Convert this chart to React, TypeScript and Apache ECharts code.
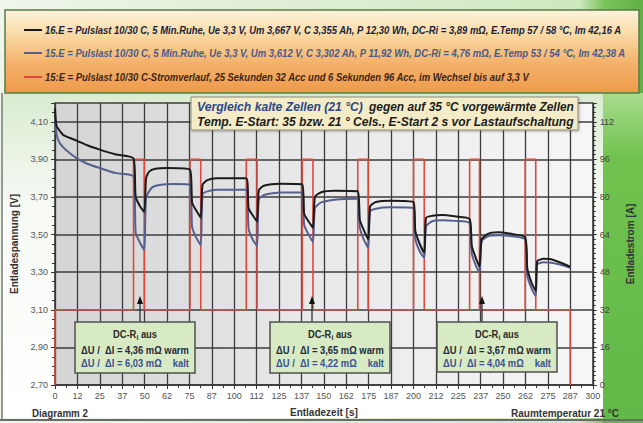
import React, { useEffect, useRef } from 'react';
import * as echarts from 'echarts';

// ---------- data ----------
const xTickLabels = ['0','12','25','37','50','62','75','87','100','112','125','137','150','162','175','187','200','212','225','237','250','262','275','287','300'];
const leftTickLabels = ['2,70','2,90','3,10','3,30','3,50','3,70','3,90','4,10'];
const rightTickLabels = ['0','16','32','48','64','80','96','112'];

// 16.E (black, warm cell) [s, V]
const cell16: [number, number][] = [
  [0,4.17],[0.5,4.10],[1,4.075],[2,4.06],[4.6,4.03],[8,4.015],[12,4.00],[18,3.975],[25,3.952],[34,3.926],[43.8,3.905],
  [45,3.70],[47.5,3.65],[49.8,3.62],
  [50.8,3.80],[52.5,3.835],[56,3.85],[63,3.854],[75.3,3.845],
  [76.5,3.67],[79,3.625],[81.3,3.59],
  [82.3,3.765],[85,3.79],[90,3.80],[106.7,3.80],
  [108,3.64],[110.5,3.60],[112.7,3.57],
  [113.7,3.735],[116.5,3.76],[125,3.771],[137.9,3.768],
  [139,3.61],[141.5,3.57],[143.9,3.536],
  [145,3.70],[148.5,3.725],[156,3.733],[168.9,3.73],
  [170,3.58],[172,3.53],[174.7,3.474],
  [175.8,3.65],[179,3.673],[187,3.68],[200,3.673],
  [201,3.52],[203.5,3.45],[206,3.403],
  [207,3.589],[210.5,3.60],[216,3.604],[223,3.597],[231.3,3.583],
  [232.5,3.44],[235,3.37],[236.8,3.33],
  [238,3.474],[241.5,3.504],[247,3.512],[255,3.503],[262.3,3.486],
  [263.5,3.32],[266,3.24],[268.2,3.20],
  [269,3.358],[272.5,3.371],[276,3.37],[281.5,3.353],[287.4,3.329]
];

// 15.E (blue, cold cell) [s, V]
const cell15: [number, number][] = [
  [0,4.13],[0.5,4.06],[1.5,4.01],[3.6,3.975],[8,3.935],[12,3.907],[18,3.877],[25,3.854],[34,3.827],[43.8,3.809],
  [45,3.51],[47.5,3.455],[49.8,3.42],
  [50.8,3.695],[53.8,3.748],[57.5,3.762],[66,3.769],[75.3,3.765],
  [76.5,3.54],[79,3.48],[81.3,3.445],
  [82.3,3.715],[85,3.73],[90,3.739],[106.7,3.739],
  [108,3.53],[110.5,3.47],[112.7,3.44],
  [113.7,3.686],[117,3.712],[126,3.724],[137.9,3.724],
  [139,3.55],[141.5,3.50],[143.9,3.46],
  [145,3.641],[148.5,3.671],[156,3.686],[168.9,3.691],
  [170,3.54],[172,3.48],[174.7,3.43],
  [175.8,3.624],[179,3.638],[187,3.645],[200,3.641],
  [201,3.48],[203.5,3.41],[206,3.377],
  [207,3.544],[210.5,3.571],[216,3.576],[223,3.573],[231.3,3.562],
  [232.5,3.40],[235,3.33],[236.8,3.30],
  [238,3.465],[241.5,3.491],[247,3.496],[255,3.491],[262.3,3.474],
  [263.5,3.28],[266,3.21],[268.2,3.173],
  [269,3.341],[272.5,3.353],[277,3.35],[283,3.337],[287.4,3.324]
];

// current profile (A)
const pulseStarts = [43.8, 75.3, 106.7, 137.9, 168.9, 200, 231.3, 262.3];
const pulseEnds = [49.8, 81.3, 112.7, 143.9, 174.7, 206, 236.8, 268.2];
const baseCurrent = 32;
const pulseCurrent = 96;
const endTime = 287.4;

const legendLines = [
  '16.E = Pulslast 10/30 C, 5 Min.Ruhe, Ue 3,3 V, Um 3,667 V, C 3,355 Ah, P 12,30 Wh, DC-Ri = 3,89 mΩ, E.Temp 57 / 58 °C, Im 42,16 A',
  '15.E = Pulslast 10/30 C, 5 Min.Ruhe, Ue 3,3 V, Um 3,612 V, C 3,302 Ah, P 11,92 Wh, DC-Ri = 4,76 mΩ, E.Temp 53 / 54 °C, Im 42,38 A',
  '15:E = Pulslast 10/30 C-Stromverlauf, 25 Sekunden 32 Acc und 6 Sekunden 96 Acc, im Wechsel bis auf 3,3 V'
];
const dcriWarm = ['4,36', '3,65', '3,67'];
const dcriKalt = ['6,03', '4,22', '4,04'];

// ---------- layout / style ----------
const FF = '"Liberation Sans", Arial, sans-serif';
const C_BLACK = '#1b1b1b';
const C_BLUE = '#56608f';
const C_RED = '#dc4a40';

let _ctx: CanvasRenderingContext2D | null = null;
function measure(text: string, size: number, bold: boolean, italic: boolean) {
  if (!_ctx) _ctx = document.createElement('canvas').getContext('2d');
  _ctx!.font = `${italic ? 'italic ' : ''}${bold ? 'bold ' : ''}${size}px ${FF}`;
  return _ctx!.measureText(text).width;
}

function txt(text: string, x: number, y: number, o: { size: number; color: string; bold?: boolean; italic?: boolean; width?: number; scale?: number; align?: string }) {
  const bold = o.bold !== false;
  const italic = !!o.italic;
  let sx = o.scale ?? 1;
  if (o.width) sx = o.width / measure(text, o.size, bold, italic);
  const align = o.align || 'left';
  return {
    type: 'text', x, y, scaleX: sx, z: 100,
    style: {
      text, fill: o.color, fontSize: o.size, fontFamily: FF,
      fontWeight: bold ? 'bold' : 'normal', fontStyle: italic ? 'italic' : 'normal',
      align, verticalAlign: 'middle', textAlign: align, textVerticalAlign: 'middle'
    }
  };
}

const boxes = [
  { x: 75, y: 322, w: 120, h: 51, arrowX: 140 },
  { x: 270, y: 322, w: 120, h: 51, arrowX: 312 },
  { x: 437, y: 322, w: 120, h: 50, arrowX: 482 }
];

export default function App() {
  const ref = useRef<HTMLDivElement>(null);
  useEffect(() => {
    const chart = echarts.init(ref.current!, undefined, { renderer: 'svg' });

    const current: [number, number][] = [[0, 0], [0, baseCurrent]];
    pulseStarts.forEach((s, i) => {
      current.push([s, baseCurrent], [s, pulseCurrent], [pulseEnds[i], pulseCurrent], [pulseEnds[i], baseCurrent]);
    });
    current.push([endTime, baseCurrent], [endTime, 0]);

    const g: any[] = [];
    // backgrounds
    g.push({ type: 'rect', z: -100, shape: { x: 0, y: 0, width: 643, height: 423 },
      style: { fill: new echarts.graphic.LinearGradient(0, 0, 1, 0, [
        { offset: 0, color: '#eef6ea' }, { offset: 0.9, color: '#cfe8c0' }, { offset: 0.94, color: '#7cc45c' }, { offset: 1, color: '#5db244' }]) } });
    g.push({ type: 'rect', z: -99, shape: { x: 2, y: 93, width: 601, height: 325 },
      style: { fill: new echarts.graphic.LinearGradient(0, 0, 0, 1, [
        { offset: 0, color: '#d9ecd0' }, { offset: 0.35, color: '#f7faf5' }, { offset: 1, color: '#ffffff' }]) } });
    g.push({ type: 'rect', z: -98, shape: { x: 603, y: 93, width: 40, height: 330 },
      style: { fill: new echarts.graphic.LinearGradient(0, 0, 0, 1, [
        { offset: 0, color: '#a8dc8c' }, { offset: 0.2, color: '#6fc24e' }, { offset: 1, color: '#62b848' }]) } });
    g.push({ type: 'line', z: -97, shape: { x1: 0, y1: 420, x2: 643, y2: 420 }, style: { stroke: '#6a6a6a', lineWidth: 2 } });
    g.push({ type: 'line', z: -97, shape: { x1: 2, y1: 93, x2: 2, y2: 420 }, style: { stroke: '#7a7a7a', lineWidth: 1.5 } });

    // legend box
    g.push({ type: 'rect', z: 90, shape: { x: 5, y: 10, width: 634, height: 83 },
      style: { fill: new echarts.graphic.LinearGradient(0, 0, 0, 1, [
        { offset: 0, color: '#fdf4dc' }, { offset: 0.3, color: '#f9d9a4' }, { offset: 0.65, color: '#f3b16a' }, { offset: 1, color: '#ee9a4a' }]),
        stroke: '#5a7a4a', lineWidth: 1.5 } });
    const legendColors = [C_BLACK, C_BLUE, C_RED];
    const legendText = ['#1a1f38', '#4c5a88', '#3a2418'];
    const legendY = [30, 53, 77];
    const legendW = [577, 582, 485];
    legendLines.forEach((s, i) => {
      g.push({ type: 'line', z: 100, shape: { x1: 24, y1: legendY[i], x2: 42, y2: legendY[i] }, style: { stroke: legendColors[i], lineWidth: 2 } });
      g.push(txt(s, 45, legendY[i], { size: 11, color: legendText[i], italic: true, width: legendW[i] }));
    });

    // title box
    g.push({ type: 'rect', z: 90, shape: { x: 191, y: 97, width: 387, height: 33 },
      style: { fill: '#f4ecc6', stroke: '#8c8a7c', lineWidth: 1, shadowBlur: 2, shadowColor: 'rgba(0,0,0,0.3)', shadowOffsetX: 1, shadowOffsetY: 1 } });
    g.push(txt('Vergleich kalte Zellen (21 °C)', 197, 107, { size: 13, color: '#2d4788', italic: true, width: 166 }));
    g.push(txt('gegen auf 35 °C vorgewärmte Zellen', 369, 107, { size: 13, color: '#1c1c1c', italic: true, width: 205 }));
    g.push(txt('Temp. E-Start: 35 bzw. 21 ° Cels., E-Start 2 s vor Lastaufschaltung', 197, 122, { size: 13, color: '#1c1c1c', italic: true, width: 377 }));

    // DC-Ri boxes with arrows
    boxes.forEach((b, i) => {
      g.push({ type: 'line', z: 95, shape: { x1: b.arrowX, y1: 302, x2: b.arrowX, y2: b.y }, style: { stroke: '#222', lineWidth: 1.2 } });
      g.push({ type: 'polygon', z: 95, shape: { points: [[b.arrowX, 296], [b.arrowX - 3, 304], [b.arrowX + 3, 304]] }, style: { fill: '#111' } });
      g.push({ type: 'rect', z: 96, shape: { x: b.x, y: b.y, width: b.w, height: b.h },
        style: { fill: '#d7eac4', stroke: '#505050', lineWidth: 1.5 } });
      const line2 = `ΔU /  ΔI = ${dcriWarm[i]} mΩ warm`;
      const sc = (b.w - 12) / measure(line2, 11, true, false);
      g.push({ type: 'text', z: 100, x: b.x + b.w / 2, y: b.y + 12, scaleX: sc,
        style: { text: '{a|DC-R}{s|i}{a| aus}', fontFamily: FF, align: 'center', verticalAlign: 'middle', textAlign: 'center', textVerticalAlign: 'middle',
          rich: { a: { fontSize: 11, fontWeight: 'bold', fill: '#2a2a2a', color: '#2a2a2a', fontFamily: FF, lineHeight: 14 },
                  s: { fontSize: 8, fontWeight: 'bold', fill: '#2a2a2a', color: '#2a2a2a', fontFamily: FF, lineHeight: 8, verticalAlign: 'bottom' } } } });
      g.push(txt(line2, b.x + 6, b.y + 28, { size: 11, color: '#222a3a', scale: sc }));
      g.push(txt(`ΔU /  ΔI = ${dcriKalt[i]} mΩ`, b.x + 6, b.y + 41, { size: 11, color: '#3b5190', scale: sc }));
      g.push(txt('kalt', b.x + b.w - 6, b.y + 41, { size: 11, color: '#3b5190', scale: sc, align: 'right' }));
    });

    // bottom texts
    g.push(txt('Diagramm 2', 32, 413, { size: 10, color: '#333', width: 56 }));
    g.push(txt('Raumtemperatur 21 °C', 619, 414, { size: 10, color: '#333', width: 108, align: 'right' }));

    const option: any = {
      animation: false,
      grid: { left: 55, right: 40, top: 103, bottom: 38, show: true, borderWidth: 0,
        backgroundColor: new echarts.graphic.LinearGradient(0, 0, 1, 0, [
          { offset: 0, color: '#d4d4d4' }, { offset: 0.45, color: '#e8e8e8' }, { offset: 1, color: '#f6f6f6' }]) },
      xAxis: {
        type: 'value', min: 0, max: 300, interval: 12.5,
        name: 'Entladezeit [s]', nameLocation: 'middle', nameGap: 22,
        nameTextStyle: { fontSize: 10, fontWeight: 'bold', color: '#333', fontFamily: FF },
        axisLine: { lineStyle: { color: '#333', width: 1.5 } },
        axisTick: { show: true, length: 4, lineStyle: { color: '#333' } },
        minorTick: { show: true, splitNumber: 2, length: 3, lineStyle: { color: '#333' } },
        axisLabel: { fontSize: 9, color: '#555', fontFamily: FF, margin: 6,
          formatter: (v: number) => xTickLabels[Math.round(v / 12.5)] ?? '' },
        splitLine: { show: true, lineStyle: { color: '#3c3c3c', width: 1.3 } }
      },
      yAxis: [
        {
          type: 'value', min: 2.7, max: 4.2, interval: 0.2,
          name: 'Entladespannung [V]', nameLocation: 'middle', nameGap: 30,
          nameTextStyle: { fontSize: 10, fontWeight: 'bold', color: '#333', fontFamily: FF },
          axisLine: { show: true, lineStyle: { color: '#333', width: 1.5 } },
          axisTick: { show: true, length: 4, lineStyle: { color: '#333' } },
          minorTick: { show: true, splitNumber: 4, length: 3, lineStyle: { color: '#333' } },
          axisLabel: { fontSize: 9, color: '#555', fontFamily: FF, margin: 7, showMaxLabel: false,
            formatter: (v: number) => leftTickLabels[Math.round((v - 2.7) / 0.2)] ?? '' },
          splitLine: { show: true, lineStyle: { color: '#3c3c3c', width: 1.5 } }
        },
        {
          type: 'value', min: 0, max: 120, interval: 16, position: 'right',
          name: 'Entladestrom [A]', nameLocation: 'middle', nameGap: 31,
          nameTextStyle: { fontSize: 10, fontWeight: 'bold', color: '#333', fontFamily: FF },
          axisLine: { show: true, lineStyle: { color: '#333', width: 1.5 } },
          axisTick: { show: true, length: 4, lineStyle: { color: '#333' } },
          minorTick: { show: true, splitNumber: 8, length: 3, lineStyle: { color: '#333' } },
          axisLabel: { fontSize: 9, color: '#444', fontFamily: FF, margin: 7, showMaxLabel: false,
            formatter: (v: number) => rightTickLabels[Math.round(v / 16)] ?? '' },
          splitLine: { show: false }
        }
      ],
      series: [
        { name: 'Strom', type: 'line', yAxisIndex: 1, data: current, showSymbol: false, symbol: 'none',
          lineStyle: { color: C_RED, width: 1.6 }, z: 2 },
        { name: '15.E', type: 'line', yAxisIndex: 0, data: cell15, showSymbol: false, symbol: 'none', smooth: 0.2,
          lineStyle: { color: C_BLUE, width: 2 }, z: 3 },
        { name: '16.E', type: 'line', yAxisIndex: 0, data: cell16, showSymbol: false, symbol: 'none', smooth: 0.2,
          lineStyle: { color: C_BLACK, width: 2 }, z: 4 }
      ],
      graphic: { elements: g }
    };
    chart.setOption(option);
    return () => chart.dispose();
  }, []);
  return <div ref={ref} style={{ position: 'absolute', left: 0, top: 0, width: 643, height: 423 }} />;
}
